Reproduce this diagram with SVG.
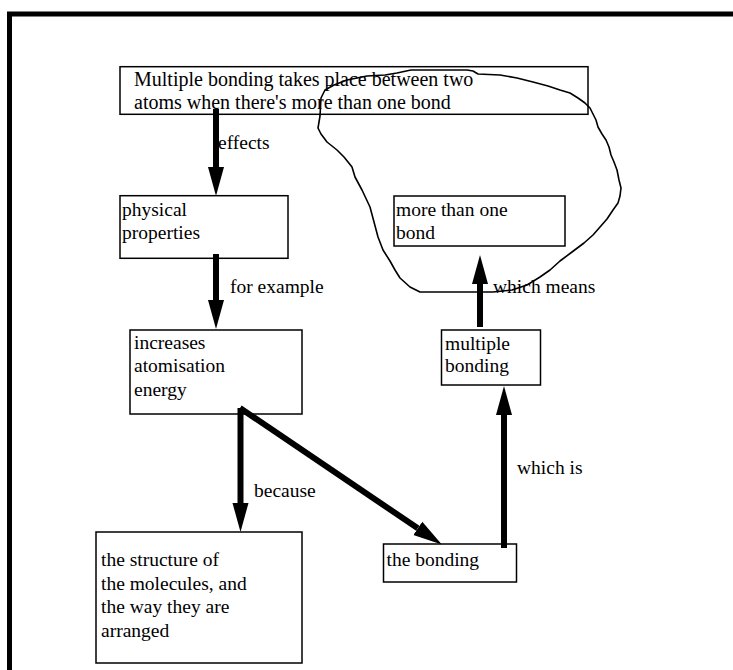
<svg xmlns="http://www.w3.org/2000/svg" width="733" height="670" viewBox="0 0 733 670">
<style>
.box{fill:#fff;stroke:#000;stroke-width:1.5}
.t{font-family:"Liberation Serif","Times New Roman",serif;font-size:19.5px;fill:#000}
.wide{font-size:20px}
.edge{stroke:#000;stroke-width:6;fill:none;marker-end:url(#ah)}
.blob{fill:none;stroke:#000;stroke-width:1.6;stroke-linejoin:round}
</style>
<defs>
<marker id="ah" markerUnits="userSpaceOnUse" markerWidth="30" markerHeight="18" refX="0" refY="8" orient="auto" viewBox="0 0 30 16">
<path d="M0,0 L29,8 L0,16 Z" fill="#000"/>
</marker>
</defs>
<rect width="733" height="670" fill="#fff"/>
<path d="M9.5,670 L9.5,14 L733,14" fill="none" stroke="#000" stroke-width="5"/>

<g id="n1">
<rect class="box" x="120" y="66.7" width="468" height="47.6"/>
<text class="t wide" x="134" y="85.7">Multiple bonding takes place between two</text>
<text class="t wide" x="134" y="109.3">atoms when there's more than one bond</text>
</g>
<g id="n2">
<rect class="box" x="120" y="195.7" width="168" height="62.6"/>
<text class="t" x="122" y="215.5">physical</text>
<text class="t" x="122" y="239.3">properties</text>
</g>
<g id="n3">
<rect class="box" x="130" y="330" width="172" height="84"/>
<text class="t" x="134" y="349.3">increases</text>
<text class="t" x="134" y="372">atomisation</text>
<text class="t" x="134" y="396">energy</text>
</g>
<g id="n4">
<rect class="box" x="96" y="532" width="206" height="131"/>
<text class="t" x="101" y="566">the structure of</text>
<text class="t" x="101" y="589.5">the molecules, and</text>
<text class="t" x="101" y="613">the way they are</text>
<text class="t" x="101" y="636.7">arranged</text>
</g>
<g id="n5">
<rect class="box" x="383.5" y="544" width="133" height="38"/>
<text class="t" x="386.5" y="566">the bonding</text>
</g>
<g id="n6">
<rect class="box" x="441.5" y="330" width="99" height="55"/>
<text class="t" x="445" y="350">multiple</text>
<text class="t" x="445" y="371.7">bonding</text>
</g>
<g id="n7">
<rect class="box" x="394" y="196" width="171" height="50"/>
<text class="t" x="396" y="216">more than one</text>
<text class="t" x="396" y="239.3">bond</text>
</g>

<g id="connectors">
<line class="edge" x1="216" y1="109" x2="216" y2="167"/>
<text class="t" x="218" y="149">effects</text>
<line class="edge" x1="216" y1="254" x2="216" y2="300"/>
<text class="t" x="230" y="293">for example</text>
<line class="edge" x1="240.5" y1="408" x2="240.5" y2="503"/>
<text class="t" x="254" y="497">because</text>
<line class="edge" x1="240" y1="408" x2="417.8" y2="528.3"/>
<line class="edge" x1="504" y1="548" x2="504" y2="415"/>
<text class="t" x="517" y="474">which is</text>
<line class="edge" x1="480" y1="327" x2="480" y2="284"/>
<text class="t" x="493" y="293">which means</text>
</g>

<path class="blob" d="M420,292 L493,292 L512,290 L527,285 L540,277 L550,270 L560,261 L572,252 L584,243 L593,235 L600,227 L607,219 L613,210 L618,203 L620,196 L621,188 L619,180 L617,170 L614,162 L611,155 L609,147 L606,140 L602,134 L598,127 L596,120 L593,114 L590,108 L585,103 L578,98 L570,93 L560,90 L548,86 L533,82 L517,78 L500,75 L478,74 L473,71 L467,70 L440,70 L411,70 L397,73 L385,75 L367,76 L347,80 L334,85 L325,90 L321,98 L320,116 L318,128 L321,134 L327,142 L337,150 L344,157 L352,167 L355,177 L362,190 L370,207 L378,237 L383,250 L390,261 L395,270 L400,278 L410,287 Z"/>
</svg>
